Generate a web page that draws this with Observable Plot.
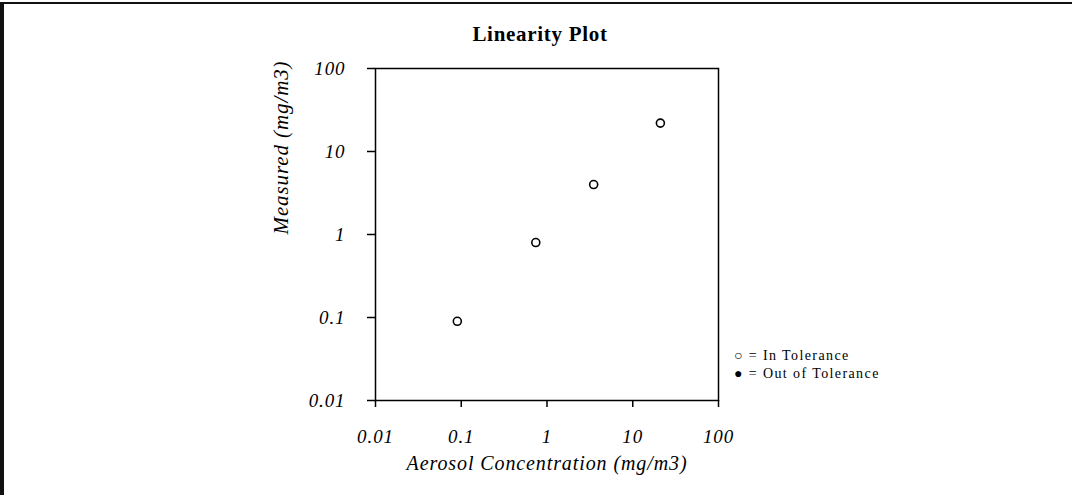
<!DOCTYPE html>
<html>
<head>
<meta charset="utf-8">
<script src="https://cdn.jsdelivr.net/npm/d3@7"></script>
<script src="https://cdn.jsdelivr.net/npm/@observablehq/plot@0.6"></script>
<style>
  html, body { margin: 0; padding: 0; background: #fff; }
  #wrap { position: relative; width: 1072px; height: 495px; overflow: hidden; background: #fff; }
  #wrap svg { position: absolute; left: 0; top: 0; }
  #topline { position: absolute; left: 0; top: 2px; width: 1072px; height: 2px; background: #111; }
  #leftline { position: absolute; left: 0; top: 2px; width: 4px; height: 493px; background: #111; }
  #title { position: absolute; left: 0; width: 1072px; top: 22px; text-align: center;
           font-family: "Liberation Serif", serif; font-weight: bold; font-size: 21px; letter-spacing: 0.7px; color: #000; padding-left: 4px; }
  #legend { position: absolute; left: 734px; top: 347px; font-family: "Liberation Serif", serif;
            font-size: 14px; letter-spacing: 1.4px; line-height: 18px; color: #000; }
</style>
</head>
<body>
<div id="wrap">
  <div id="topline"></div>
  <div id="leftline"></div>
  <div id="title"></div>
  <div id="legend"></div>
</div>
<script>
const titleText = "Linearity Plot";
const xLabel = "Aerosol Concentration (mg/m3)";
const yLabel = "Measured (mg/m3)";
const tickValues = [0.01, 0.1, 1, 10, 100];
const tickLabels = ["0.01", "0.1", "1", "10", "100"];
const aerosol = [0.09, 0.74, 3.5, 21];
const measured = [0.09, 0.8, 4.0, 22];
const tolerance = ["In", "In", "In", "In"];
const legendItems = ["○ = In Tolerance", "● = Out of Tolerance"];

const rows = aerosol.map((a, i) => ({x: a, y: measured[i], t: tolerance[i]}));
const fmt = v => tickLabels[tickValues.indexOf(v)] ?? String(v);

document.getElementById("title").textContent = titleText;
document.getElementById("legend").innerHTML = legendItems.map(s => `<div>${s}</div>`).join("");

const chart = Plot.plot({
  width: 1072,
  height: 495,
  marginLeft: 375,
  marginRight: 354,
  marginTop: 68,
  marginBottom: 95,
  style: {fontFamily: "Liberation Serif, serif", fontStyle: "italic", fontSize: "19px", letterSpacing: "0.9px", color: "#000", background: "transparent"},
  x: {type: "log", domain: [0.01, 100]},
  y: {type: "log", domain: [0.01, 100]},
  marks: [
    Plot.frame({stroke: "#000", strokeWidth: 1.5}),
    Plot.axisX({ticks: tickValues, tickFormat: fmt, tickSize: 7, tickPadding: 22, label: null, stroke: "#000", strokeWidth: 1.5}),
    Plot.axisY({ticks: tickValues, tickFormat: fmt, tickSize: 8, tickPadding: 22, label: null, stroke: "#000", strokeWidth: 1.5}),
    Plot.text([xLabel], {text: d => d, frameAnchor: "bottom", dy: 69, fontSize: 20, fontStyle: "italic", fill: "#000"}),
    Plot.text([yLabel], {text: d => d, frameAnchor: "left", dx: -94, rotate: -90, fontSize: 21, fontStyle: "italic", fill: "#000"}),
    Plot.dot(rows, {x: "x", y: "y", r: 4, stroke: "#000", strokeWidth: 1.6, fill: d => d.t === "In" ? "#fff" : "#000"})
  ]
});
document.getElementById("wrap").appendChild(chart);
</script>
</body>
</html>
